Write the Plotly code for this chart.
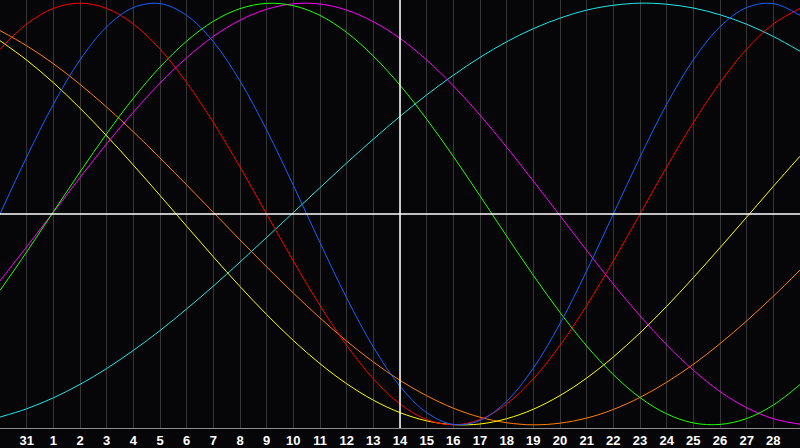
import plotly.graph_objects as go

# day labels across the chart (30th of previous month .. 29th)
days = ["30", "31"] + [str(d) for d in range(1, 30)]
today = "14"

# rhythm values in percent, one per day
physical = [0.0, 27.0, 52.0, 73.1, 88.8, 97.9, 99.8, 94.2, 81.7, 63.1, 39.8, 13.6, -13.6,
            -39.8, -63.1, -81.7, -94.2, -99.8, -97.9, -88.8, -73.1, -52.0, -27.0, 0.0,
            27.0, 52.0, 73.1, 88.8, 97.9, 99.8, 94.2]
emotional = [78.2, 90.1, 97.5, 100.0, 97.5, 90.1, 78.2, 62.3, 43.4, 22.3, 0.0, -22.3, -43.4,
             -62.3, -78.2, -90.1, -97.5, -100.0, -97.5, -90.1, -78.2, -62.3, -43.4, -22.3,
             0.0, 22.3, 43.4, 62.3, 78.2, 90.1, 97.5]
intellectual = [-36.3, -18.0, 1.0, 19.9, 38.1, 54.9, 69.7, 82.0, 91.4, 97.4, 99.9, 98.8, 94.2,
                86.1, 74.9, 61.1, 45.0, 27.3, 8.6, -10.5, -29.1, -46.7, -62.6, -76.2, -87.1,
                -94.8, -99.1, -99.8, -97.0, -90.6, -80.9]
intuitive = [-31.7, -15.6, 0.8, 17.3, 33.3, 48.3, 62.1, 74.1, 84.2, 91.9, 97.1, 99.7, 99.6,
             96.7, 91.2, 83.3, 73.0, 60.8, 46.9, 31.7, 15.6, -0.8, -17.3, -33.3, -48.3,
             -62.1, -74.1, -84.2, -91.9, -97.1, -99.7]
aesthetic = [82.2, 73.0, 62.3, 50.2, 37.1, 23.2, 8.8, -5.8, -20.3, -34.4, -47.7, -60.0, -71.0,
             -80.5, -88.3, -94.2, -98.1, -99.9, -99.6, -97.1, -92.6, -86.1, -77.8, -67.8,
             -56.4, -43.8, -30.2, -16.0, -1.5, 13.1, 27.4]
awareness = [87.0, 79.8, 71.3, 61.5, 50.7, 39.0, 26.6, 13.8, 0.8, -12.3, -25.1, -37.5, -49.3,
             -60.3, -70.2, -78.9, -86.2, -92.1, -96.4, -99.0, -100.0, -99.2, -96.8, -92.7,
             -87.0, -79.8, -71.3, -61.5, -50.7, -39.0, -26.6]
spiritual = [-96.3, -92.4, -87.2, -80.8, -73.3, -64.7, -55.3, -45.0, -34.2, -22.8, -11.1, 0.7,
             12.5, 24.2, 35.5, 46.3, 56.5, 65.8, 74.3, 81.7, 87.9, 92.9, 96.7, 99.0, 100.0,
             99.5, 97.7, 94.5, 90.0, 84.2, 77.2]

series = [
    ("spiritual", spiritual, "#22e6e6"),
    ("awareness", awareness, "#ff7f00"),
    ("aesthetic", aesthetic, "#ffff00"),
    ("intuitive", intuitive, "#ff00ff"),
    ("intellectual", intellectual, "#22ff00"),
    ("emotional", emotional, "#ff0000"),
    ("physical", physical, "#1062ff"),
]

x = list(range(len(days)))

fig = go.Figure()
for name, vals, color in series:
    fig.add_trace(go.Scatter(x=x, y=vals, mode="lines", name=name,
                             line=dict(color=color, width=1, shape="spline"),
                             hoverinfo="skip"))

fig.add_vline(x=days.index(today), line=dict(color="#ffffff", width=1.5), layer="above")
fig.add_hline(y=0, line=dict(color="#ffffff", width=1.5), layer="above")

fig.update_layout(
    width=800, height=448,
    margin=dict(l=0, r=0, t=0, b=20, autoexpand=False),
    paper_bgcolor="#060608",
    plot_bgcolor="#060608",
    showlegend=False,
)
fig.update_xaxes(
    range=[0, len(days) - 1],
    tickvals=x[1:-1], ticktext=days[1:-1],
    tickfont=dict(family="Liberation Sans", size=13, color="#ffffff", weight="bold"),
    ticks="", ticklen=0,
    showgrid=True, gridcolor="#363636", gridwidth=1,
    zeroline=False,
    showline=True, linecolor="#8a8a8a", linewidth=1, mirror=True,
)
fig.update_yaxes(
    range=[-101.5, 101.5],
    showticklabels=False, showgrid=False, zeroline=False,
    showline=True, linecolor="#8a8a8a", linewidth=1, mirror=True,
)

# the page body has a default 8px margin; drop it so the chart fills the window
fig.write_html("out.html", config={"displayModeBar": False},
               post_script="document.body.style.margin='0';")
